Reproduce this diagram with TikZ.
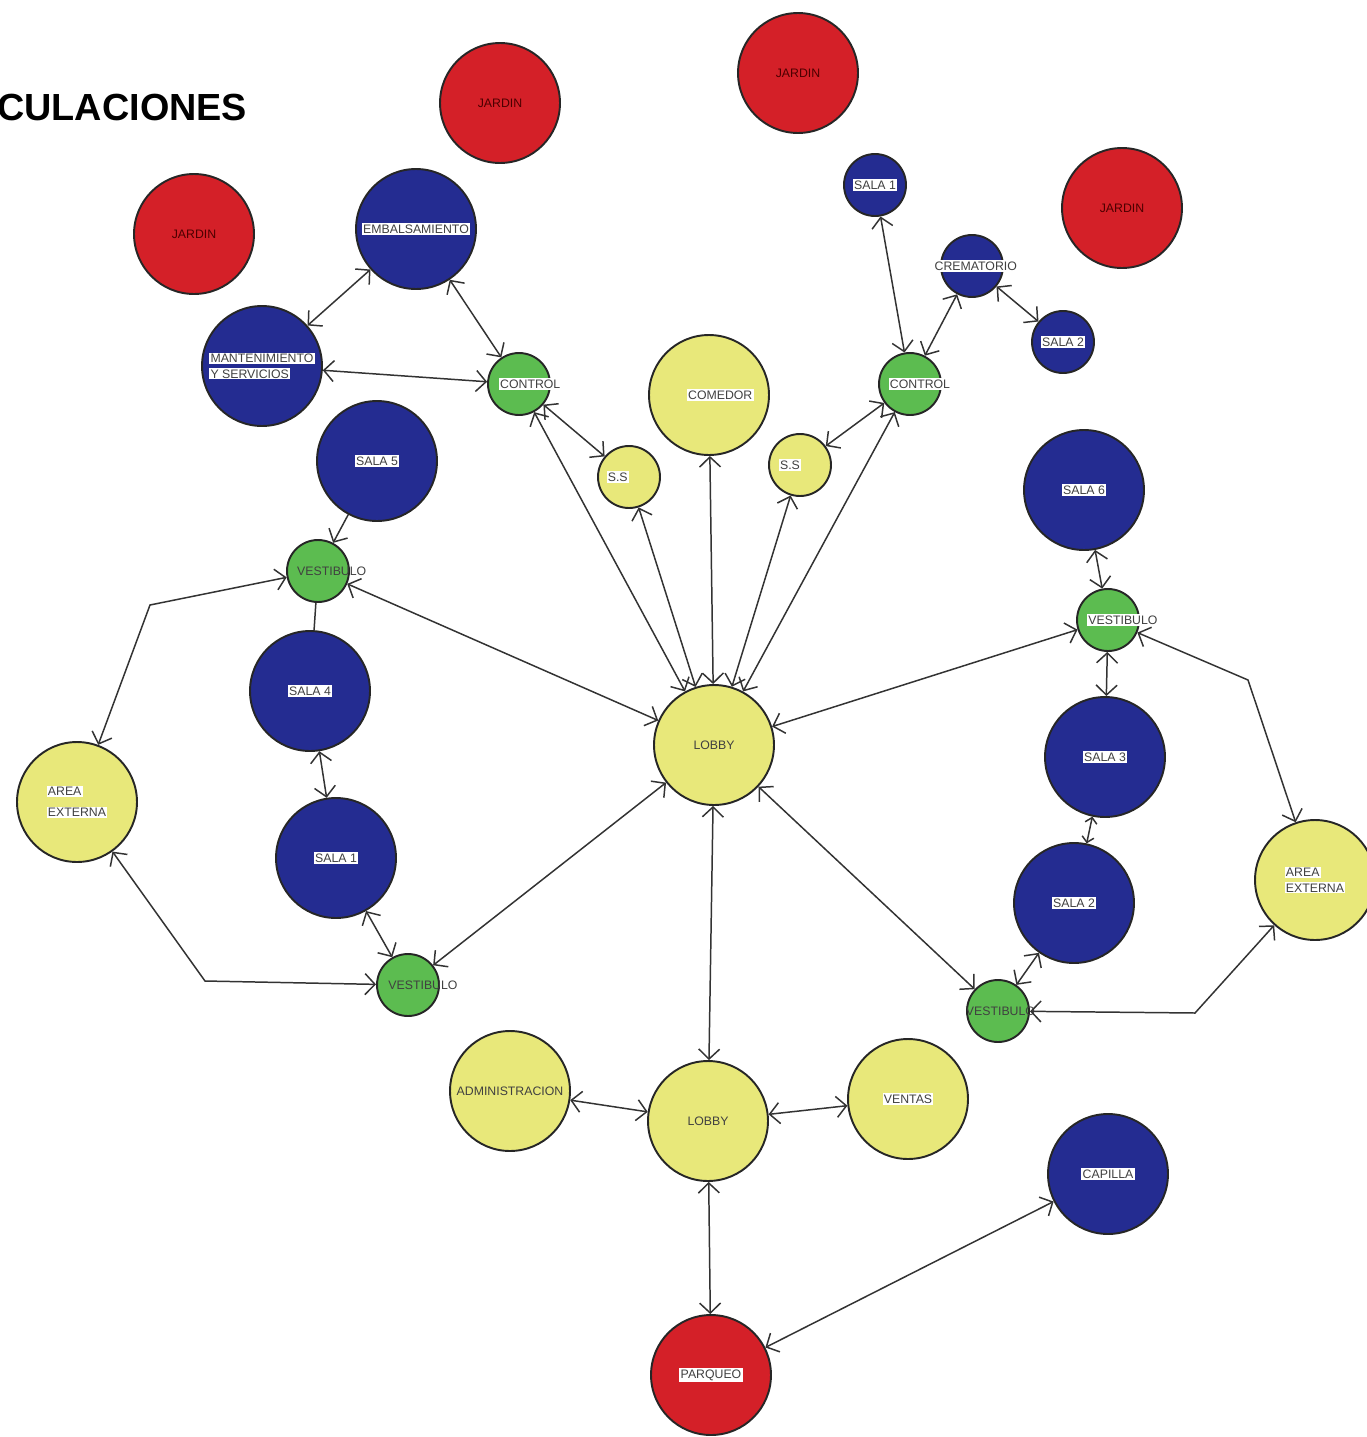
\documentclass[tikz,border=0pt]{standalone}
\usepackage{fontspec}
\setmainfont{Liberation Sans}
\usetikzlibrary{arrows.meta}
\definecolor{jardinred}{RGB}{212,32,40}
\definecolor{salablue}{RGB}{36,44,145}
\definecolor{zonayellow}{RGB}{232,232,122}
\definecolor{pasogreen}{RGB}{92,188,80}
% white strip behind a label, and a label that may stick out of its circle
\newcommand{\wbox}[1]{{\setlength{\fboxsep}{0.7pt}\colorbox{white}{#1}}}
\newcommand{\nlab}[2][0pt]{\makebox[0pt]{\hspace*{#1}#2}}

\begin{document}
\begin{tikzpicture}[x=0.02cm,y=-0.02cm,
  >={Straight Barb[length=2mm,width=4.2mm]},
  room/.style={circle,draw=black!85,line width=1.1pt,minimum size=2.4cm,
    inner sep=0pt,font=\fontsize{7}{12}\selectfont,text=black!75},
  smallroom/.style={room,minimum size=1.24cm},
  jardin/.style={room,fill=jardinred,text=black!70!red},
  sala/.style={fill=salablue},
  zona/.style={fill=zonayellow},
  paso/.style={fill=pasogreen},
  link/.style={<->,line width=0.85pt,draw=black!80},
  shortlink/.style={link,>={Straight Barb[length=1.1mm,width=2.4mm]}}]
\useasboundingbox (0,0) rectangle (1366,1437);
%Start with the title, then the rooms row by row, then every link
\node[anchor=west,inner sep=0pt,font=\bfseries\fontsize{21.5}{24}\selectfont] (title) at (-3,107) {CULACIONES};

\node[jardin] (jardinA) at (194,234) {JARDIN};
\node[jardin] (jardinB) at (500,103) {JARDIN};
\node[jardin] (jardinC) at (798,73) {JARDIN};
\node[jardin] (jardinD) at (1122,208) {JARDIN};

\node[room,sala] (embal) at (416,229) {\wbox{EMBALSAMIENTO}};
\node[room,sala,align=left] (mant) at (262,366) {\wbox{MANTENIMIENTO}\\[-3pt]\wbox{Y SERVICIOS}};
\node[smallroom,paso] (controlL) at (519,384) {\nlab[0.45cm]{\wbox{CONTROL}}};
\node[room,zona] (comedor) at (709,395) {\nlab[0.45cm]{\wbox{COMEDOR}}};
\node[smallroom,zona] (ssL) at (629,477) {\nlab[-0.45cm]{\wbox{S.S}}};
\node[smallroom,zona] (ssR) at (800,465) {\nlab[-0.4cm]{\wbox{S.S}}};
\node[smallroom,paso] (controlR) at (910,384) {\nlab[0.4cm]{\wbox{CONTROL}}};
\node[smallroom,sala] (salaT1) at (875,185) {\nlab{\wbox{SALA 1}}};
\node[smallroom,sala] (crema) at (972,266) {\nlab[0.15cm]{\wbox{CREMATORIO}}};
\node[smallroom,sala] (salaT2) at (1063,342) {\nlab{\wbox{SALA 2}}};

\node[room,sala] (sala5) at (377,461) {\wbox{SALA 5}};
\node[smallroom,paso] (vestLT) at (318,571) {\nlab[0.55cm]{VESTIBULO}};
\node[room,sala] (sala4) at (310,691) {\wbox{SALA 4}};
\node[room,zona,align=left] (extL) at (77,802) {\wbox{AREA}\\\wbox{EXTERNA}};
\node[room,sala] (sala1) at (336,858) {\wbox{SALA 1}};
\node[smallroom,paso] (vestLB) at (408,985) {\nlab[0.6cm]{VESTIBULO}};

\node[room,zona] (lobby) at (714,745) {LOBBY};

\node[room,sala] (sala6) at (1084,490) {\wbox{SALA 6}};
\node[smallroom,paso] (vestRT) at (1108,620) {\nlab[0.6cm]{\wbox{VESTIBULO}}};
\node[room,sala] (sala3) at (1105,757) {\wbox{SALA 3}};
\node[room,sala] (sala2) at (1074,903) {\wbox{SALA 2}};
\node[room,zona,align=left] (extR) at (1315,880) {\wbox{AREA}\\[-3pt]\wbox{EXTERNA}};
\node[smallroom,paso] (vestRB) at (998,1011) {\nlab[0.1cm]{VESTIBULO}};

\node[room,zona] (admin) at (510,1091) {ADMINISTRACION};
\node[room,zona] (lobbyB) at (708,1121) {LOBBY};
\node[room,zona] (ventas) at (908,1099) {\wbox{VENTAS}};
\node[room,sala] (capilla) at (1108,1174) {\wbox{CAPILLA}};
\node[room,fill=jardinred] (parqueo) at (711,1375) {\wbox{PARQUEO}};

\coordinate (bendA) at (150,605);
\coordinate (bendB) at (205,981);
\coordinate (bendC) at (1248,680);
\coordinate (bendD) at (1195,1013);

\draw[link] (embal) -- (mant);
\draw[link] (embal) -- (controlL);
\draw[link] (mant) -- (controlL);
\draw[link] (controlL) -- (ssL);
\draw[link] (controlL) -- (lobby);
\draw[link] (ssL) -- (lobby);
\draw[link] (comedor) -- (lobby);
\draw[link] (ssR) -- (lobby);
\draw[link] (ssR) -- (controlR);
\draw[link] (controlR) -- (lobby);
\draw[link] (controlR) -- (salaT1);
\draw[link] (controlR) -- (crema);
\draw[link] (crema) -- (salaT2);

\draw[link,<-] (vestLT) -- (sala5);
\draw[line width=0.85pt,draw=black!80] (vestLT) -- (sala4);
\draw[link] (vestLT) -- (lobby);
\draw[link] (vestLT) -- (bendA) -- (extL);
\draw[link] (sala4) -- (sala1);
\draw[link] (sala1) -- (vestLB);
\draw[link] (extL) -- (bendB) -- (vestLB);
\draw[link] (vestLB) -- (lobby);

\draw[link] (sala6) -- (vestRT);
\draw[link] (vestRT) -- (lobby);
\draw[link] (vestRT) -- (sala3);
\draw[link] (vestRT) -- (bendC) -- (extR);
\draw[shortlink] (sala3) -- (sala2);
\draw[link] (sala2) -- (vestRB);
\draw[link] (vestRB) -- (lobby);
\draw[link] (vestRB) -- (bendD) -- (extR);

\draw[link] (lobby) -- (lobbyB);
\draw[link] (admin) -- (lobbyB);
\draw[link] (lobbyB) -- (ventas);
\draw[link] (lobbyB) -- (parqueo);
\draw[link] (capilla) -- (parqueo);
\end{tikzpicture}
\end{document}
